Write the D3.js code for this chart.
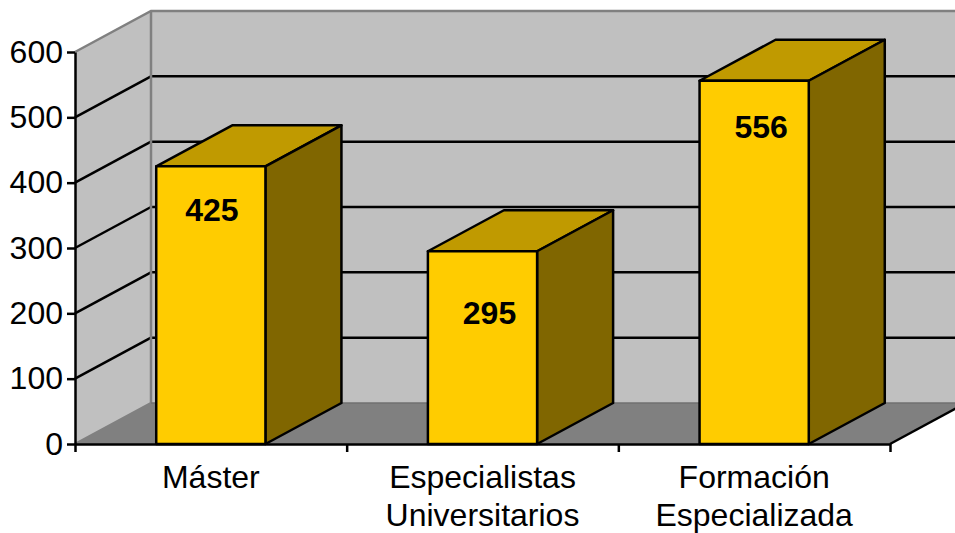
<!DOCTYPE html>
<html>
<head>
<meta charset="utf-8">
<script src="https://cdn.jsdelivr.net/npm/d3@7"></script>
<style>
  html, body { margin: 0; padding: 0; background: #fff; overflow: hidden; }
  svg { display: block; }
  text { font-family: "Liberation Sans", Arial, sans-serif; fill: #000; }
</style>
</head>
<body>
<div id="chart"></div>
<script>
var categories = [["Máster"], ["Especialistas", "Universitarios"], ["Formación", "Especializada"]];
var values = [425, 295, 556];
var yTicks = [0, 100, 200, 300, 400, 500, 600];

var svgWidth = 955;
var svgHeight = 533;
var left = 75, right = 890, bottom = 444, top0 = 52;
var depthX = 76, depthY = -41;
var fontSize = 32;
var lineW = 2.5;

// label spots are not centred in the original
var labelNudge = [{x: 1, y: 43}, {x: 7, y: 62}, {x: 7, y: 46}];

var svg = d3.select("#chart").append("svg")
  .attr("width", svgWidth)
  .attr("height", svgHeight);

var x = d3.scaleBand()
  .domain(d3.range(categories.length))
  .range([left, right]);

var y = d3.scaleLinear()
  .domain([0, 600])
  .range([bottom, top0]);

var barWidth = x.bandwidth() * 0.402;

function pts(list) {
  return list.map(function(p) { return p.join(","); }).join(" ");
}

// back wall, side wall, floor
svg.append("polygon")
  .attr("points", pts([[left + depthX, y(600) + depthY], [right + depthX, y(600) + depthY], [right + depthX, y(0) + depthY], [left + depthX, y(0) + depthY]]))
  .attr("fill", "#c0c0c0");

svg.append("polygon")
  .attr("points", pts([[left, y(0)], [left, y(600)], [left + depthX, y(600) + depthY], [left + depthX, y(0) + depthY]]))
  .attr("fill", "#c0c0c0");

svg.append("polygon")
  .attr("points", pts([[left, y(0)], [right, y(0)], [right + depthX, y(0) + depthY], [left + depthX, y(0) + depthY]]))
  .attr("fill", "#808080");

// gridlines
var grid = yTicks.filter(function(d) { return d > 0 && d < 600; });

svg.selectAll(".gridSide").data(grid).enter().append("line")
  .attr("x1", left).attr("y1", function(d) { return y(d); })
  .attr("x2", left + depthX).attr("y2", function(d) { return y(d) + depthY; })
  .attr("stroke", "#000").attr("stroke-width", lineW);

svg.selectAll(".gridBack").data(grid).enter().append("line")
  .attr("x1", left + depthX).attr("y1", function(d) { return y(d) + depthY; })
  .attr("x2", right + depthX).attr("y2", function(d) { return y(d) + depthY; })
  .attr("stroke", "#000").attr("stroke-width", lineW);

// grey wall edges
svg.append("polyline")
  .attr("points", pts([[left, y(600)], [left + depthX, y(600) + depthY], [right + depthX, y(600) + depthY]]))
  .attr("fill", "none").attr("stroke", "#808080").attr("stroke-width", 2.5);

svg.append("polyline")
  .attr("points", pts([[left, y(0)], [left + depthX, y(0) + depthY], [left + depthX, y(600) + depthY]]))
  .attr("fill", "none").attr("stroke", "#808080").attr("stroke-width", 2.5);

svg.append("line")
  .attr("x1", left + depthX).attr("y1", y(0) + depthY)
  .attr("x2", right + depthX).attr("y2", y(0) + depthY)
  .attr("stroke", "#707070").attr("stroke-width", 1.5);

svg.append("line")
  .attr("x1", right).attr("y1", y(0))
  .attr("x2", right + depthX).attr("y2", y(0) + depthY)
  .attr("stroke", "#000").attr("stroke-width", lineW);

// bars
var bars = svg.selectAll(".bar").data(values).enter().append("g").attr("class", "bar");

function barLeft(i) {
  return x(i) + (x.bandwidth() - barWidth) / 2;
}

bars.append("polygon")
  .attr("points", function(d, i) {
    var a = barLeft(i), b = a + barWidth, t = y(d);
    return pts([[a, t], [b, t], [b + depthX, t + depthY], [a + depthX, t + depthY]]);
  })
  .attr("fill", "#c09a00");

bars.append("polygon")
  .attr("points", function(d, i) {
    var b = barLeft(i) + barWidth, t = y(d);
    return pts([[b, t], [b, y(0)], [b + depthX, y(0) + depthY], [b + depthX, t + depthY]]);
  })
  .attr("fill", "#806600");

bars.append("rect")
  .attr("x", function(d, i) { return barLeft(i); })
  .attr("y", function(d) { return y(d); })
  .attr("width", barWidth)
  .attr("height", function(d) { return y(0) - y(d); })
  .attr("fill", "#ffcc00");

bars.selectAll("polygon, rect")
  .attr("stroke", "#000")
  .attr("stroke-width", lineW)
  .attr("stroke-linejoin", "round");

bars.append("text")
  .attr("x", function(d, i) { return x(i) + x.bandwidth() / 2 + labelNudge[i].x; })
  .attr("y", function(d, i) { return y(d) + labelNudge[i].y; })
  .attr("dy", "0.35em")
  .attr("text-anchor", "middle")
  .attr("font-size", fontSize)
  .attr("font-weight", "bold")
  .text(function(d) { return d; });

// axes
var leftAxis = d3.axisLeft(y).tickValues(yTicks).tickSize(8).tickPadding(4).tickSizeOuter(0);
var gy = svg.append("g")
  .attr("transform", "translate(" + left + ",0)")
  .call(leftAxis);

var tickX = d3.scaleLinear().domain([0, categories.length]).range([left, right]);
var bottomAxis = d3.axisBottom(tickX).tickValues(d3.range(categories.length + 1)).tickSize(8).tickFormat("").tickSizeOuter(0);
var gx = svg.append("g")
  .attr("transform", "translate(0," + bottom + ")")
  .call(bottomAxis);

[gy, gx].forEach(function(g) {
  g.selectAll("path, line").attr("stroke", "#000").attr("stroke-width", lineW);
});

gy.selectAll("text")
  .attr("font-size", fontSize)
  .attr("font-family", null)
  .attr("fill", "#000");

// category labels, one or two lines
svg.selectAll(".cat").data(categories).enter().append("text")
  .attr("class", "cat")
  .attr("text-anchor", "middle")
  .attr("font-size", fontSize)
  .each(function(lines, i) {
    d3.select(this).selectAll("tspan").data(lines).enter().append("tspan")
      .attr("x", x(i) + x.bandwidth() / 2)
      .attr("y", function(d, j) { return 488 + j * 38; })
      .text(function(d) { return d; });
  });
</script>
</body>
</html>
